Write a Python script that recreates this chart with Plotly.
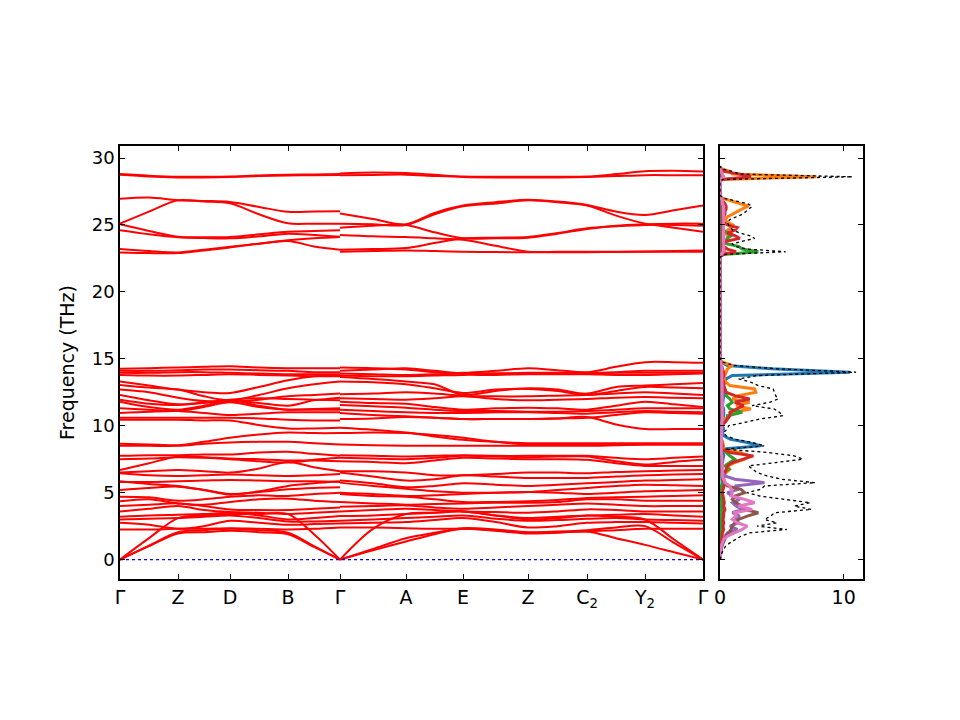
import plotly.graph_objects as go

# high-symmetry k-path (cumulative distance) and labels
kpt_pos = [0, 58, 110, 168, 220, 286, 343, 408, 467, 525, 583]
kpt_labels = ["Γ", "Z", "D", "B", "Γ", "A", "E", "Z", "C<sub>2</sub>", "Y<sub>2</sub>", "Γ"]

# band frequencies (THz) sampled at each high-symmetry point and segment midpoints
# path 1: Γ-Z-D-B-Γ (9 samples)
bands_path1 = [
    # acoustic
    [0, 1.0, 1.95, 2.05, 2.15, 2.05, 1.9, 0.95, 0],
    [0, 1.05, 2.05, 2.2, 2.3, 2.2, 2.0, 1.0, 0],
    [0, 1.6, 3.1, 3.3, 3.4, 3.4, 3.4, 1.9, 0],
    # optical, low group
    [2.25, 2.25, 2.3, 2.3, 2.35, 2.3, 2.25, 2.3, 2.4],
    [2.75, 2.6, 2.3, 2.5, 2.9, 2.75, 2.6, 2.65, 2.7],
    [3.0, 3.05, 3.1, 3.2, 3.3, 3.1, 2.85, 2.85, 2.9],
    [3.2, 3.3, 3.35, 3.4, 3.5, 3.3, 3.0, 3.1, 3.25],
    [3.6, 3.8, 4.0, 3.7, 3.55, 3.5, 3.4, 3.5, 3.6],
    [4.0, 4.1, 4.2, 4.0, 3.75, 3.7, 3.7, 3.8, 3.9],
    [4.35, 4.5, 4.2, 4.1, 4.3, 4.5, 4.55, 4.4, 4.3],
    [4.7, 4.65, 4.4, 4.5, 4.7, 4.8, 4.75, 4.9, 5.0],
    [5.2, 5.35, 5.45, 5.2, 4.9, 5.05, 5.25, 5.35, 5.4],
    [5.8, 5.8, 5.85, 5.9, 5.95, 5.9, 5.85, 5.85, 5.8],
    [5.85, 5.65, 5.5, 5.2, 4.85, 5.1, 5.5, 5.7, 5.85],
    [6.45, 6.3, 6.25, 6.3, 6.35, 6.3, 6.25, 6.3, 6.4],
    [6.5, 6.6, 6.7, 6.6, 6.5, 6.8, 7.3, 6.9, 6.6],
    [6.7, 7.2, 7.7, 7.65, 7.55, 7.5, 7.4, 7.4, 7.35],
    [7.5, 7.55, 7.65, 7.6, 7.5, 7.35, 7.25, 7.45, 7.6],
    [7.75, 7.8, 7.8, 7.85, 7.85, 8.0, 8.05, 7.9, 7.75],
    [8.5, 8.5, 8.5, 8.65, 8.75, 8.8, 8.8, 8.7, 8.6],
    [8.65, 8.6, 8.55, 8.8, 9.1, 9.35, 9.5, 9.45, 9.45],
    [10.45, 10.45, 10.45, 10.4, 10.4, 10.05, 9.8, 9.8, 9.85],
    [10.6, 10.6, 10.6, 10.6, 10.6, 10.55, 10.45, 10.4, 10.4],
    [10.95, 11.05, 11.1, 10.95, 10.8, 10.9, 11.0, 11.0, 11.0],
    [11.3, 11.2, 11.1, 11.4, 11.75, 11.4, 11.2, 11.2, 11.2],
    [11.8, 11.4, 11.2, 11.5, 11.9, 11.5, 11.2, 11.25, 11.3],
    [11.95, 11.65, 11.55, 11.7, 11.95, 12.05, 12.0, 11.95, 11.9],
    [12.3, 11.9, 11.6, 11.75, 11.9, 11.7, 11.5, 11.9, 12.1],
    [12.7, 12.5, 12.1, 11.85, 11.8, 11.95, 12.2, 12.3, 12.4],
    [13.05, 12.85, 12.7, 12.2, 11.9, 12.3, 12.8, 13.1, 13.3],
    [13.3, 13.0, 12.7, 12.5, 12.45, 12.9, 13.4, 13.7, 13.8],
    [13.8, 13.75, 13.75, 13.8, 13.85, 13.8, 13.75, 13.7, 13.7],
    [13.95, 13.95, 14.0, 14.0, 13.95, 13.9, 13.85, 13.85, 13.85],
    [14.1, 14.1, 14.15, 14.2, 14.2, 14.15, 14.1, 14.0, 14.0],
    [14.25, 14.3, 14.35, 14.4, 14.45, 14.35, 14.3, 14.3, 14.3],
    # optical, high group
    [22.95, 22.9, 22.9, 23.1, 23.32, 23.6, 23.8, 23.4, 23.15],
    [23.2, 23.05, 22.95, 23.15, 23.38, 23.6, 23.85, 24.0, 24.1],
    [24.6, 24.3, 24.08, 24.02, 24.0, 24.15, 24.35, 24.25, 24.12],
    [25.05, 24.55, 24.12, 24.08, 24.1, 24.3, 24.5, 24.55, 24.6],
    [25.1, 26.0, 26.85, 26.75, 26.62, 25.8, 25.12, 25.1, 25.1],
    [26.95, 27.05, 26.85, 26.8, 26.72, 26.35, 25.98, 26.0, 26.02],
    [28.75, 28.62, 28.55, 28.55, 28.58, 28.65, 28.7, 28.72, 28.74],
    [28.8, 28.68, 28.6, 28.6, 28.62, 28.7, 28.75, 28.78, 28.8],
]

# path 2: Γ-A-E-Z-C2-Y2-Γ (13 samples)
bands_path2 = [
    [0, 0.7, 1.35, 1.9, 2.3, 2.15, 1.95, 2.0, 2.1, 1.6, 1.1, 0.55, 0],
    [0, 0.8, 1.6, 2.0, 2.35, 2.25, 2.05, 2.1, 2.2, 2.4, 2.5, 1.25, 0],
    [0, 2.3, 3.4, 3.5, 3.6, 3.3, 3.0, 3.1, 3.3, 3.2, 3.0, 1.5, 0],
    [2.4, 2.4, 2.35, 2.3, 2.3, 2.2, 2.0, 2.05, 2.1, 2.2, 2.3, 2.3, 2.3],
    [2.7, 2.75, 2.8, 2.95, 3.1, 2.8, 2.4, 2.5, 2.75, 2.8, 2.8, 2.75, 2.7],
    [2.9, 3.0, 3.1, 3.2, 3.3, 3.05, 2.9, 2.95, 3.05, 3.1, 3.0, 2.95, 2.9],
    [3.25, 3.3, 3.4, 3.5, 3.6, 3.3, 3.1, 3.2, 3.3, 3.35, 3.4, 3.3, 3.2],
    [3.6, 3.7, 3.8, 3.7, 3.6, 3.55, 3.5, 3.6, 3.75, 3.7, 3.6, 3.6, 3.6],
    [3.95, 4.0, 4.05, 3.9, 3.8, 3.9, 4.0, 4.1, 4.2, 4.1, 4.0, 4.0, 4.0],
    [4.3, 4.2, 4.1, 4.15, 4.2, 4.25, 4.25, 4.3, 4.5, 4.5, 4.4, 4.4, 4.4],
    [4.9, 4.75, 4.7, 4.5, 4.3, 4.3, 4.35, 4.45, 4.6, 4.65, 4.7, 4.75, 4.8],
    [5.0, 4.9, 4.75, 4.8, 4.9, 5.0, 5.05, 5.0, 4.9, 5.0, 5.1, 5.15, 5.2],
    [5.75, 5.5, 5.3, 5.1, 5.0, 5.0, 5.05, 5.2, 5.35, 5.5, 5.6, 5.55, 5.5],
    [5.9, 5.7, 5.4, 5.5, 5.7, 5.6, 5.5, 5.6, 5.7, 5.8, 5.9, 5.95, 6.0],
    [6.5, 6.2, 5.9, 6.0, 6.3, 6.2, 6.1, 6.1, 6.1, 6.2, 6.3, 6.35, 6.4],
    [6.6, 6.6, 6.5, 6.3, 6.3, 6.4, 6.5, 6.5, 6.45, 6.55, 6.6, 6.65, 6.7],
    [7.35, 7.3, 7.2, 7.4, 7.6, 7.55, 7.5, 7.5, 7.45, 7.2, 7.0, 7.0, 7.0],
    [7.6, 7.55, 7.5, 7.6, 7.75, 7.7, 7.65, 7.7, 7.7, 7.35, 7.1, 7.3, 7.45],
    [7.8, 7.75, 7.7, 7.75, 7.8, 7.75, 7.75, 7.75, 7.75, 7.6, 7.5, 7.6, 7.7],
    [8.6, 8.55, 8.5, 8.5, 8.5, 8.5, 8.5, 8.5, 8.5, 8.55, 8.6, 8.6, 8.6],
    [9.45, 9.5, 9.45, 9.3, 9.1, 8.8, 8.6, 8.6, 8.6, 8.6, 8.6, 8.6, 8.6],
    [9.85, 9.7, 9.5, 9.2, 8.95, 8.8, 8.7, 8.7, 8.7, 8.7, 8.7, 8.7, 8.7],
    [10.5, 10.55, 10.65, 10.6, 10.5, 10.5, 10.5, 10.55, 10.65, 10.1, 9.75, 9.75, 9.75],
    [10.95, 10.8, 10.7, 10.6, 10.5, 10.5, 10.5, 10.55, 10.6, 10.8, 11.0, 10.95, 10.9],
    [11.2, 11.1, 11.0, 10.95, 10.95, 11.0, 11.0, 10.95, 10.9, 11.0, 11.1, 11.05, 11.0],
    [11.55, 11.45, 11.35, 11.2, 11.1, 11.1, 11.05, 11.05, 11.1, 11.2, 11.3, 11.3, 11.3],
    [11.8, 11.7, 11.65, 11.4, 11.2, 11.3, 11.35, 11.3, 11.2, 11.5, 11.8, 11.6, 11.4],
    [12.05, 12.0, 11.95, 12.05, 12.2, 12.0, 11.9, 11.95, 12.0, 12.1, 12.15, 12.1, 12.05],
    [12.35, 12.4, 12.5, 12.4, 12.25, 12.2, 12.2, 12.25, 12.3, 12.4, 12.5, 12.4, 12.3],
    [13.3, 13.25, 13.1, 12.8, 12.45, 12.7, 12.75, 12.6, 12.3, 12.6, 12.9, 12.85, 12.8],
    [13.65, 13.5, 13.3, 13.1, 12.3, 12.6, 12.8, 12.7, 12.4, 12.9, 13.0, 13.1, 13.2],
    [13.75, 13.7, 13.7, 13.75, 13.8, 13.8, 13.85, 13.85, 13.85, 13.8, 13.8, 13.85, 13.9],
    [13.9, 13.85, 13.8, 13.85, 13.9, 13.9, 13.9, 13.9, 13.9, 13.95, 13.95, 13.95, 13.95],
    [14.1, 14.2, 14.3, 14.1, 13.9, 13.9, 13.95, 13.95, 13.95, 14.0, 14.1, 14.1, 14.1],
    [14.35, 14.3, 14.2, 14.0, 13.95, 14.1, 14.3, 14.15, 14.0, 14.4, 14.75, 14.75, 14.7],
    [23.0, 23.05, 23.1, 23.05, 23.0, 22.98, 22.96, 22.96, 22.97, 22.98, 23.0, 23.0, 23.0],
    [23.15, 23.2, 23.28, 23.65, 23.98, 24.05, 24.1, 24.4, 24.75, 24.9, 25.0, 25.0, 24.95],
    [24.25, 24.15, 24.1, 24.0, 23.9, 23.45, 23.0, 23.0, 23.0, 23.0, 23.02, 23.05, 23.1],
    [24.8, 24.95, 25.0, 24.45, 24.0, 24.0, 24.05, 24.35, 24.7, 24.95, 25.05, 25.1, 25.1],
    [25.1, 25.05, 25.0, 25.8, 26.4, 26.6, 26.85, 26.7, 26.45, 25.7, 25.1, 24.8, 24.5],
    [25.85, 25.45, 25.05, 25.9, 26.45, 26.7, 26.88, 26.75, 26.5, 26.0, 25.75, 26.1, 26.45],
    [28.72, 28.74, 28.76, 28.66, 28.58, 28.55, 28.55, 28.55, 28.58, 28.65, 28.72, 28.72, 28.72],
    [28.85, 28.92, 28.88, 28.75, 28.62, 28.6, 28.6, 28.6, 28.62, 28.8, 29.02, 29.05, 29.0],
]

# phonon DOS: frequency grid (THz)
dos_freq = [
    0.0, 0.25, 0.5, 0.75, 1.0, 1.25, 1.5, 1.75, 2.0, 2.25, 2.5, 2.75, 3.0, 3.25, 3.5, 3.75,
    4.0, 4.25, 4.5, 4.75, 5.0, 5.25, 5.5, 5.75, 6.0, 6.25, 6.5, 6.75, 7.0, 7.25, 7.5, 7.75,
    8.0, 8.25, 8.5, 8.75, 9.0, 9.25, 9.5, 9.75, 10.0, 10.25, 10.5, 10.75, 11.0, 11.25, 11.5,
    11.75, 12.0, 12.25, 12.5, 12.75, 13.0, 13.25, 13.5, 13.75, 14.0, 14.25, 14.5, 14.75, 15.0,
    22.6, 22.8, 23.0, 23.2, 23.4, 23.6, 23.8, 24.0, 24.2, 24.4, 24.6, 24.8, 25.0, 25.2, 25.4,
    25.6, 25.8, 26.0, 26.2, 26.4, 26.6, 26.8, 27.0, 27.2, 27.4, 27.6, 27.8, 28.0, 28.2, 28.4,
    28.6, 28.8, 29.0, 29.2, 29.4,
]

dos_total = [
    0, 0.05, 0.15, 0.3, 0.45, 0.8, 1.2, 1.7, 2.4, 5.4, 3.0, 4.6, 3.6, 4.1, 4.4, 7.4,
    6.0, 7.3, 5.2, 3.2, 2.2, 3.3, 3.6, 7.7, 5.0, 3.8, 3.0, 2.6, 2.3, 4.5, 6.7, 6.0,
    3.9, 0.4, 3.6, 2.6, 1.2, 0.5, 0.3, 0.6, 0.7, 2.0, 3.2, 5.1, 4.8, 4.4, 2.6,
    4.0, 4.7, 4.5, 4.4, 4.3, 3.1, 2.5, 1.5, 3.0, 11.0, 4.7, 1.2, 0.2, 0,
    0, 0.4, 5.3, 2.2, 1.2, 1.0, 1.8, 2.8, 2.4, 1.6, 1.1, 0.8, 0.7, 0.6, 0.8,
    1.3, 1.8, 2.1, 2.4, 2.6, 2.2, 1.2, 0.3, 0, 0, 0, 0, 0, 0, 0.2,
    10.7, 1.6, 1.0, 0.1, 0,
]

dos_c0 = [
    0, 0.01, 0.02, 0.03, 0.04, 0.05, 0.06, 0.08, 0.1, 0.12, 0.1, 0.12, 0.1, 0.1, 0.12, 0.15,
    0.12, 0.15, 0.12, 0.1, 0.1, 0.1, 0.12, 0.2, 0.15, 0.15, 0.12, 0.15, 0.15, 0.2, 0.25, 0.3,
    0.25, 0.1, 3.3, 2.2, 0.8, 0.3, 0.2, 0.3, 0.2, 0.2, 0.25, 0.3, 0.3, 0.3, 0.2,
    0.25, 0.3, 0.3, 0.3, 0.3, 0.3, 0.4, 0.5, 1.0, 10.5, 4.2, 0.6, 0.1, 0,
    0, 0.01, 0.03, 0.03, 0.03, 0.03, 0.03, 0.03, 0.03, 0.03, 0.03, 0.03, 0.03, 0.03, 0.03,
    0.03, 0.03, 0.03, 0.03, 0.03, 0.03, 0.03, 0.01, 0, 0, 0, 0, 0, 0, 0,
    0.05, 0.03, 0.01, 0, 0,
]

dos_c1 = [
    0, 0.01, 0.02, 0.03, 0.04, 0.05, 0.06, 0.08, 0.1, 0.15, 0.12, 0.15, 0.12, 0.15, 0.15, 0.2,
    0.15, 0.2, 0.2, 0.15, 0.15, 0.2, 0.3, 0.4, 0.3, 0.3, 0.5, 0.8, 0.6, 1.2, 2.0, 2.4,
    1.6, 0.2, 0.3, 0.2, 0.1, 0.05, 0.05, 0.1, 0.1, 0.3, 0.4, 0.8, 1.0, 2.5, 1.3,
    2.4, 1.0, 1.5, 2.9, 2.8, 0.8, 0.5, 0.3, 0.4, 0.5, 0.6, 1.0, 0.2, 0,
    0, 0.1, 0.4, 0.3, 0.2, 0.3, 0.5, 0.6, 0.6, 0.5, 0.6, 0.9, 1.05, 0.6, 0.4,
    0.6, 1.0, 1.3, 1.8, 2.3, 1.6, 0.8, 0.2, 0, 0, 0, 0, 0, 0, 0.2,
    7.8, 1.0, 0.8, 0.1, 0,
]

dos_c2 = [
    0, 0.01, 0.02, 0.03, 0.04, 0.05, 0.06, 0.08, 0.1, 0.12, 0.1, 0.12, 0.1, 0.1, 0.12, 0.15,
    0.12, 0.15, 0.12, 0.1, 0.1, 0.1, 0.15, 0.2, 0.2, 0.2, 0.3, 0.7, 0.4, 0.8, 1.2, 0.8,
    0.5, 0.05, 0.1, 0.1, 0.05, 0.03, 0.03, 0.05, 0.05, 0.3, 0.6, 0.6, 1.8, 0.8, 0.6,
    1.0, 0.8, 0.5, 0.5, 0.4, 0.2, 0.2, 0.15, 0.2, 0.2, 0.15, 0.1, 0.05, 0,
    0, 0.3, 3.1, 1.8, 1.5, 0.5, 0.4, 0.6, 0.9, 0.6, 0.3, 0.2, 0.2, 0.15, 0.1,
    0.1, 0.1, 0.1, 0.1, 0.1, 0.1, 0.05, 0, 0, 0, 0, 0, 0, 0, 0.05,
    0.2, 0.1, 0.05, 0, 0,
]

dos_c3 = [
    0, 0.02, 0.04, 0.06, 0.08, 0.1, 0.12, 0.15, 0.2, 0.3, 0.25, 0.3, 0.25, 0.3, 0.3, 0.4,
    0.3, 0.35, 0.3, 0.25, 0.2, 0.25, 0.3, 0.4, 0.3, 0.3, 0.4, 0.5, 0.6, 1.0, 1.8, 2.7,
    0.8, 0.1, 0.2, 0.15, 0.1, 0.05, 0.05, 0.1, 0.1, 0.4, 0.6, 0.8, 0.8, 1.4, 1.9,
    1.2, 2.4, 1.2, 0.5, 0.4, 0.3, 0.3, 0.2, 0.3, 0.3, 0.2, 0.1, 0.05, 0,
    0, 0.2, 1.3, 0.6, 0.3, 0.2, 0.6, 1.6, 1.2, 0.6, 1.2, 1.4, 0.6, 0.3, 0.2,
    0.3, 0.4, 0.4, 0.5, 0.5, 0.4, 0.2, 0.1, 0, 0, 0, 0, 0, 0, 0.1,
    2.5, 1.6, 0.3, 0, 0,
]

dos_c4 = [
    0, 0.02, 0.05, 0.1, 0.15, 0.2, 0.3, 0.4, 0.6, 1.4, 0.8, 1.5, 1.2, 1.6, 1.0, 1.8,
    1.3, 1.0, 1.6, 1.0, 0.6, 1.5, 1.2, 3.6, 1.2, 0.4, 0.2, 0.15, 0.1, 0.1, 0.1, 0.1,
    0.1, 0.05, 0.05, 0.05, 0.03, 0.02, 0.02, 0.02, 0.03, 0.05, 0.05, 0.05, 0.05, 0.05, 0.05,
    0.05, 0.05, 0.05, 0.05, 0.05, 0.05, 0.05, 0.05, 0.05, 0.1, 0.05, 0.03, 0.01, 0,
    0, 0.02, 0.05, 0.05, 0.05, 0.05, 0.05, 0.05, 0.05, 0.05, 0.05, 0.05, 0.05, 0.05, 0.05,
    0.05, 0.05, 0.05, 0.05, 0.05, 0.05, 0.03, 0.01, 0, 0, 0, 0, 0, 0, 0,
    0.05, 0.03, 0.01, 0, 0,
]

dos_c5 = [
    0, 0.02, 0.05, 0.1, 0.15, 0.25, 0.4, 0.5, 0.7, 0.9, 1.0, 1.2, 1.5, 2.2, 3.1, 2.0,
    1.8, 1.3, 1.0, 1.2, 2.0, 1.7, 0.6, 0.3, 0.2, 0.15, 0.1, 0.1, 0.1, 0.1, 0.1, 0.1,
    0.1, 0.05, 0.05, 0.05, 0.03, 0.02, 0.02, 0.02, 0.03, 0.05, 0.05, 0.05, 0.05, 0.05, 0.05,
    0.05, 0.05, 0.05, 0.05, 0.05, 0.05, 0.05, 0.05, 0.05, 0.1, 0.05, 0.03, 0.01, 0,
    0, 0.02, 0.05, 0.05, 0.05, 0.05, 0.05, 0.05, 0.05, 0.05, 0.05, 0.05, 0.05, 0.05, 0.05,
    0.05, 0.05, 0.05, 0.05, 0.05, 0.05, 0.03, 0.01, 0, 0, 0, 0, 0, 0, 0,
    0.05, 0.03, 0.01, 0, 0,
]

dos_c6 = [
    0, 0.02, 0.05, 0.08, 0.1, 0.2, 0.3, 0.6, 1.2, 1.8, 2.2, 1.4, 1.0, 1.3, 1.2, 2.6,
    1.5, 2.8, 2.0, 0.9, 1.0, 0.9, 0.8, 0.4, 0.3, 0.2, 0.2, 0.2, 0.15, 0.15, 0.15, 0.15,
    0.1, 0.1, 0.15, 0.15, 0.1, 0.1, 0.1, 0.1, 0.1, 0.15, 0.2, 0.2, 0.2, 0.2, 0.2,
    0.2, 0.2, 0.2, 0.2, 0.2, 0.2, 0.2, 0.2, 0.2, 0.2, 0.2, 0.15, 0.05, 0,
    0, 0.1, 0.3, 0.3, 0.3, 0.3, 0.3, 0.3, 0.3, 0.3, 0.3, 0.3, 0.3, 0.3, 0.3,
    0.3, 0.3, 0.3, 0.3, 0.3, 0.2, 0.2, 0.1, 0, 0, 0, 0, 0, 0, 0.05,
    0.3, 0.2, 0.1, 0, 0,
]

partial_colors = ["#1f77b4", "#ff7f0e", "#2ca02c", "#d62728", "#9467bd", "#8c564b", "#e377c2"]
partials = [dos_c0, dos_c1, dos_c2, dos_c3, dos_c4, dos_c5, dos_c6]


def sample_positions(nodes):
    # each segment sampled at its two ends and its midpoint
    xs = []
    for a, b in zip(nodes[:-1], nodes[1:]):
        if not xs:
            xs.append(a)
        xs.append((a + b) / 2)
        xs.append(b)
    return xs


p1_x = sample_positions(kpt_pos[:5])
p2_x = sample_positions(kpt_pos[4:])

fig = go.Figure()

# bands: one trace per path, bands separated by gaps
for px, rows in [(p1_x, bands_path1), (p2_x, bands_path2)]:
    xs, ys = [], []
    for row in rows:
        xs += list(px) + [None]
        ys += list(row) + [None]
    fig.add_trace(go.Scatter(
        x=xs, y=ys, mode="lines",
        line=dict(color="#ff0000", width=2, shape="spline", smoothing=0.9),
        hoverinfo="skip", showlegend=False, xaxis="x", yaxis="y",
    ))

# zero-frequency guide
fig.add_trace(go.Scatter(
    x=[kpt_pos[0], kpt_pos[-1]], y=[0, 0], mode="lines",
    line=dict(color="#0000ff", width=1.2, dash="dot"),
    hoverinfo="skip", showlegend=False, xaxis="x", yaxis="y",
))

# DOS panel
for vals, col in zip(partials, partial_colors):
    fig.add_trace(go.Scatter(
        x=vals, y=dos_freq, mode="lines",
        line=dict(color=col, width=3),
        hoverinfo="skip", showlegend=False, xaxis="x2", yaxis="y2",
    ))
fig.add_trace(go.Scatter(
    x=dos_total, y=dos_freq, mode="lines",
    line=dict(color="black", width=1.3, dash="dot"),
    hoverinfo="skip", showlegend=False, xaxis="x2", yaxis="y2",
))

axis_style = dict(
    showline=True, linecolor="black", linewidth=1.5, mirror="ticks",
    ticks="inside", ticklen=5, tickwidth=1.2, tickcolor="black",
    showgrid=False, zeroline=False, automargin=False,
)
x_font = dict(family="DejaVu Sans", size=19, color="black")
y_font = dict(family="DejaVu Sans", size=18, color="black")

yrange = [-1.45, 30.9]

# page body adds an 8px offset, so margins are shifted to keep the frame in place
fig.update_layout(
    width=960, height=720,
    paper_bgcolor="white", plot_bgcolor="white",
    margin=dict(l=112, r=105, t=138, b=149),
    font=dict(family="DejaVu Sans", size=18, color="black"),
    xaxis=dict(
        domain=[0, 0.7847], range=[kpt_pos[0], kpt_pos[-1]],
        tickmode="array", tickvals=kpt_pos, ticktext=kpt_labels,
        tickfont=x_font, **axis_style,
    ),
    yaxis=dict(
        domain=[0, 1], range=yrange, anchor="x",
        tickmode="array", tickvals=[0, 5, 10, 15, 20, 25, 30],
        title=dict(text="Frequency (THz)", font=dict(family="DejaVu Sans", size=19), standoff=12),
        tickfont=y_font, **axis_style,
    ),
    xaxis2=dict(
        domain=[0.8075, 1], range=[0, 11.56], anchor="y2",
        tickmode="array", tickvals=[0, 10],
        tickfont=x_font, **axis_style,
    ),
    yaxis2=dict(
        domain=[0, 1], range=yrange, anchor="x2",
        tickmode="array", tickvals=[0, 5, 10, 15, 20, 25, 30], showticklabels=False,
        tickfont=y_font, **axis_style,
    ),
)

fig.write_html("out.html")
